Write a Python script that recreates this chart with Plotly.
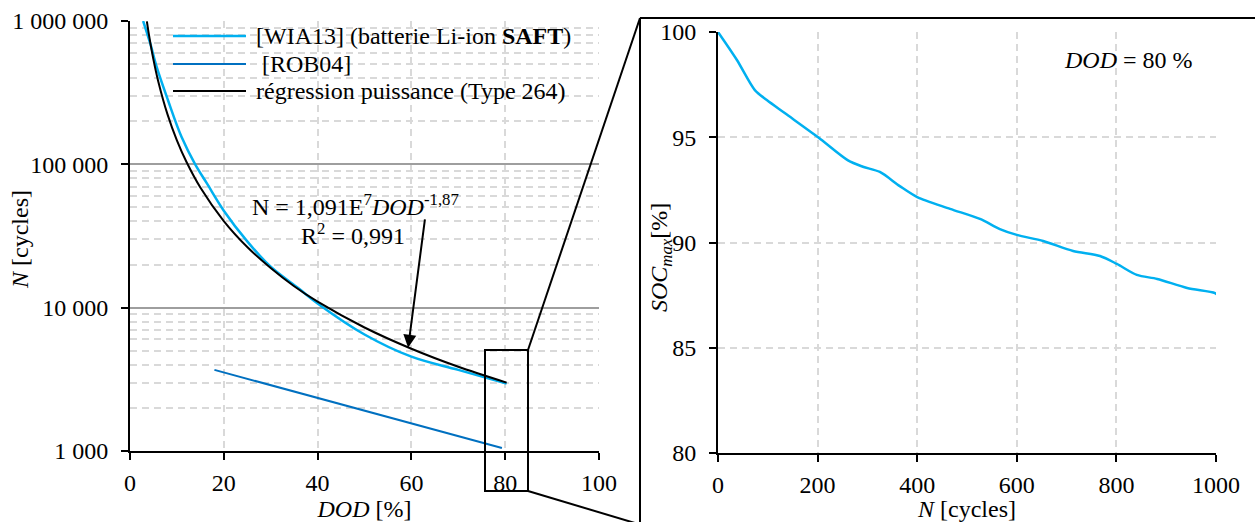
import plotly.graph_objects as go

W, H = 1255, 522
FONT = "Liberation Serif"
FS = 24
LIGHT = "#00B0F0"
DARK = "#0070C0"
GRID = "#D9D9D9"

# ---- left chart : N vs DOD ----
dod_wia = [2.8, 4.3, 5.7, 8.1, 11, 13.9, 16.4, 20, 25, 30, 36, 40, 50, 60, 70, 80.3]
n_wia = [1000000, 700000, 476000, 280000, 155000, 100000, 73600, 47500, 29000,
         19300, 13600, 10700, 6500, 4550, 3680, 2950]

dod_rob = [18, 30, 40, 50, 60, 70, 79.3]
n_rob = [3680, 2880, 2340, 1910, 1555, 1270, 1050]

dod_reg = [3.6, 4, 5, 6, 8, 10, 12, 15, 20, 25, 30, 35, 40, 50, 60, 70, 80.3]
n_reg = [995000, 817000, 538000, 382000, 223000, 147000, 104600, 68900, 40200,
         26500, 18900, 14100, 11000, 7270, 5170, 3870, 3000]

y_ticks = [1000, 10000, 100000, 1000000]
y_ticktext = ["1 000", "10 000", "100 000", "1 000 000"]
y_minor = [m * 10 ** e for e in (3, 4, 5) for m in range(2, 10)]

# ---- right chart : SOCmax vs N ----
n_cyc = [0, 38, 74, 98, 134, 201, 261, 291, 325, 365, 400, 466, 526, 566, 600,
         653, 713, 767, 801, 841, 882, 942, 998, 1005]
soc_max = [100, 98.67, 97.24, 96.77, 96.15, 95.0, 93.9, 93.6, 93.35, 92.68, 92.16,
           91.6, 91.12, 90.64, 90.36, 90.07, 89.6, 89.36, 88.98, 88.46, 88.27,
           87.84, 87.6, 87.46]


def px(x):
    return x / W


def py(y):
    return 1 - y / H


fig = go.Figure()

fig.add_trace(go.Scatter(x=dod_rob, y=n_rob, mode="lines", name="[ROB04]",
                         line=dict(color=DARK, width=2), showlegend=False))
fig.add_trace(go.Scatter(x=dod_wia, y=n_wia, mode="lines",
                         name="[WIA13] (batterie Li-ion SAFT)",
                         line=dict(color=LIGHT, width=2.5, shape="spline", smoothing=1),
                         showlegend=False))
fig.add_trace(go.Scatter(x=dod_reg, y=n_reg, mode="lines",
                         name="régression puissance (Type 264)",
                         line=dict(color="black", width=2, shape="spline", smoothing=0.8),
                         showlegend=False))
fig.add_trace(go.Scatter(x=n_cyc, y=soc_max, mode="lines", xaxis="x2", yaxis="y2",
                         line=dict(color=LIGHT, width=2.5, shape="spline", smoothing=0.8),
                         showlegend=False))

axis_font = dict(family=FONT, size=FS, color="black")
common = dict(showline=True, linecolor="black", linewidth=2, ticks="outside",
              ticklen=7, tickwidth=2, tickcolor="black", tickfont=axis_font,
              zeroline=False, automargin=False, gridwidth=1.5)
dashed = dict(gridcolor=GRID, griddash="7px,5px")

fig.update_layout(
    width=W, height=H,
    margin=dict(l=0, r=0, t=0, b=0),
    paper_bgcolor="white", plot_bgcolor="white",
    font=dict(family=FONT, size=FS, color="black"),
    xaxis=dict(domain=[px(130), px(599)], range=[0, 100], tickvals=[0, 20, 40, 60, 80, 100],
               anchor="y", showgrid=True, ticklabelstandoff=2,
               title=dict(text="<i>DOD</i> [%]", font=axis_font, standoff=0),
               **common, **dashed),
    yaxis=dict(domain=[py(451), py(21)], type="log", range=[3, 6], tickvals=y_ticks,
               ticktext=y_ticktext, anchor="x", ticklabelstandoff=8,
               showgrid=True, gridcolor="#9E9E9E",
               minor=dict(tickvals=y_minor, showgrid=True, gridcolor=GRID, gridwidth=1.5,
                          griddash="7px,5px", ticks=""),
               **common),
    xaxis2=dict(domain=[px(718), px(1216)], range=[0, 1000],
                tickvals=[0, 200, 400, 600, 800, 1000], anchor="y2", showgrid=True,
                ticklabelstandoff=2,
                title=dict(text="<i>N</i> [cycles]", font=axis_font, standoff=0),
                **common, **dashed),
    yaxis2=dict(domain=[py(453), py(32)], range=[80, 100], tickvals=[80, 85, 90, 95, 100],
                anchor="x2", showgrid=True, ticklabelstandoff=8, **common, **dashed),
)

# manual legend
legend_rows = [("[WIA13] (batterie Li-ion <b>SAFT</b>)", LIGHT, 2.5, 36),
               (" [ROB04]", DARK, 2, 64),
               ("régression puissance (Type 264)", "black", 2, 91)]
shapes = []
annotations = []
for label, color, width, yy in legend_rows:
    shapes.append(dict(type="line", xref="paper", yref="paper", x0=px(173), x1=px(246),
                       y0=py(yy), y1=py(yy), line=dict(color=color, width=width)))
    annotations.append(dict(text=label, xref="paper", yref="paper", x=px(254), y=py(yy),
                            xanchor="left", yanchor="middle", showarrow=False,
                            font=dict(family=FONT, size=FS, color="black")))

# zoom frame linking the two charts
frame = dict(color="black", width=2)
shapes += [
    dict(type="rect", xref="paper", yref="paper", x0=px(485), x1=px(528),
         y0=py(491), y1=py(350), line=frame),
    dict(type="line", xref="paper", yref="paper", x0=px(528), y0=py(350),
         x1=px(640), y1=py(18), line=frame),
    dict(type="line", xref="paper", yref="paper", x0=px(528), y0=py(491),
         x1=px(675), y1=py(535), line=frame),
    dict(type="line", xref="paper", yref="paper", x0=px(640), y0=py(18),
         x1=px(640), y1=py(530), line=frame),
    dict(type="line", xref="paper", yref="paper", x0=px(640), y0=py(18),
         x1=px(1260), y1=py(18), line=frame),
]

annotations += [
    dict(text="N = 1,091E<sup>7</sup><i>DOD</i><sup>-1,87</sup>", xref="paper",
         yref="paper", x=px(355), y=py(205), xanchor="center", yanchor="middle",
         showarrow=False, font=dict(family=FONT, size=FS)),
    dict(text="R<sup>2</sup> = 0,991", xref="paper", yref="paper", x=px(353),
         y=py(234), xanchor="center", yanchor="middle", showarrow=False,
         font=dict(family=FONT, size=FS)),
    dict(text="", x=59.3, y=3.72, xref="x", yref="y", showarrow=True, arrowhead=2,
         arrowsize=1.3, arrowwidth=2, arrowcolor="black", ax=17, ay=-130, standoff=0),
    dict(text="<i>DOD</i> = 80 %", xref="paper", yref="paper", x=px(1128), y=py(60),
         xanchor="center", yanchor="middle", showarrow=False,
         font=dict(family=FONT, size=FS)),
    # y titles
    dict(text="<i>N</i> [cycles]", xref="paper", yref="paper",
         x=px(20), y=py(240), textangle=-90, xanchor="center", yanchor="middle",
         showarrow=False, font=dict(family=FONT, size=FS)),
    dict(text="<i>SOC</i><sub><i>max</i></sub>[%]", xref="paper", yref="paper",
         x=px(661), y=py(258), textangle=-90, xanchor="center", yanchor="middle",
         showarrow=False, font=dict(family=FONT, size=FS)),
]

fig.update_layout(shapes=shapes, annotations=annotations)

fig.write_html("out.html", config={"displayModeBar": False},
               post_script="document.body.style.margin='0px';")
